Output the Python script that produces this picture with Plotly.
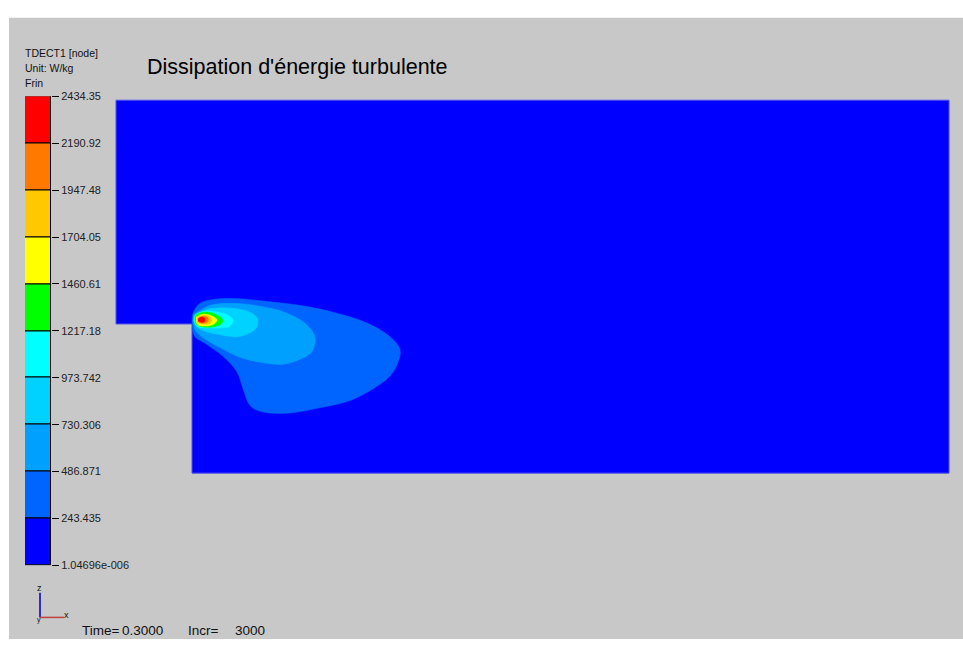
import plotly.graph_objects as go

# ---------------- data ----------------
# contour levels of TDECT1 (W/kg) and band colours (low -> high)
levels = [1.04696e-06, 243.435, 486.871, 730.306, 973.742, 1217.18,
          1460.61, 1704.05, 1947.48, 2190.92, 2434.35]
level_labels = ["1.04696e-006", "243.435", "486.871", "730.306", "973.742",
                "1217.18", "1460.61", "1704.05", "1947.48", "2190.92", "2434.35"]
band_colors = ["#0000ff", "#0064ff", "#00a0ff", "#00d2ff", "#00ffff",
               "#00ff00", "#ffff00", "#ffc800", "#ff7800", "#ff0000"]

# geometry of the backward-facing step domain (origin at step corner, z upward)
domain_x = [-76, 757, 757, 0, 0, -76, -76]
domain_z = [228, 228, -152, -152, 0, 0, 228]

# iso-contour outlines (region above each level)
contour_x = {
    1: [0, 1, 8, 21, 41, 75, 108, 141, 175, 198, 208, 206, 198, 181, 158, 125, 95, 68, 58, 51, 45, 31, 15, 3, 0],
    2: [1, 5, 18, 41, 68, 95, 115, 123, 120, 108, 91, 68, 48, 28, 11, 3, 1],
    3: [2, 8, 21, 41, 58, 65, 65, 58, 45, 28, 15, 5, 2],
    4: [2, 3, 13, 26, 36, 41, 38, 28, 16, 6, 2],
    5: [3, 4, 11, 21, 28, 31, 29, 21, 11, 5, 3],
    6: [4, 11, 20, 25, 22, 15, 6, 4],
    7: [5, 11, 18, 20, 17, 10, 5],
    8: [6, 11, 16, 16, 13, 8, 6],
    9: [6, 10, 13, 12, 8, 6],
}
contour_z = {
    1: [1, 11, 21, 25, 26, 23, 19, 12, 1, -13, -26, -39, -53, -66, -78, -86, -91, -89, -83, -66, -49, -33, -21, -13, -4],
    2: [10, 12, 19, 21, 18, 11, -1, -14, -28, -36, -41, -39, -34, -24, -14, -6, 4],
    3: [4, 12, 16, 16, 12, 6, -3, -9, -13, -11, -8, -3, 4],
    4: [2, 9, 13, 12, 9, 4, -2, -4, -4, -3, 2],
    5: [4, 9, 12, 11, 7, 4, 0, -3, -3, -1, 4],
    6: [7, 10, 8, 4, 0, -2, -1, 3],
    7: [6, 9, 7, 3, 0, 0, 2],
    8: [6, 8, 6, 3, 1, 1, 3],
    9: [5, 7, 5, 2, 2, 3],
}

FONT = "Liberation Sans, Arial, sans-serif"
W, H = 963, 645

fig = go.Figure()

# domain (lowest band colour)
fig.add_trace(go.Scatter(
    x=domain_x, y=domain_z, mode="lines", fill="toself",
    fillcolor=band_colors[0], line=dict(color="#5050f0", width=1),
    hoverinfo="skip", showlegend=False))

# contour bands
for k in range(1, 10):
    fig.add_trace(go.Scatter(
        x=contour_x[k], y=contour_z[k], mode="lines", fill="toself",
        fillcolor=band_colors[k],
        line=dict(color=band_colors[k], width=0.5, shape="spline", smoothing=1),
        hoverinfo="skip", showlegend=False))

# colour legend as stacked bars
fig.add_trace(go.Bar(
    x=[0] * 10, base=levels[:-1],
    y=[levels[i + 1] - levels[i] for i in range(10)],
    marker=dict(color=band_colors, line=dict(color="black", width=1)),
    width=1, xaxis="x2", yaxis="y2", hoverinfo="skip", showlegend=False))

def px(x):
    return x / W

def py(y):
    return 1 - y / H

annotations = []
def txt(x, y, s, size, color="#111111"):
    annotations.append(dict(x=px(x), y=py(y), xref="paper", yref="paper",
                            text=s, showarrow=False, xanchor="left",
                            yanchor="middle", xshift=-2,
                            font=dict(family=FONT, size=size, color=color)))

txt(25, 48, "TDECT1 [node]", 10.5)
txt(25, 63, "Unit: W/kg", 10.5)
txt(25, 78, "Frin", 10.5)
txt(147, 62, "Dissipation d'énergie turbulente", 21.5, "#000000")
txt(82, 636, "Time=", 13.5)
txt(122, 636, "0.3000", 13.5)
txt(188, 636, "Incr=", 13.5)
txt(235, 636, "3000", 13.5)
txt(37, 593, "z", 9)
txt(64, 621, "x", 9)
txt(37, 626, "y", 7)

shapes = [
    dict(type="rect", xref="paper", yref="paper", x0=px(9), x1=1, y0=0, y1=py(12),
         fillcolor="#c8c8c8", line=dict(width=0), layer="below"),
    dict(type="line", xref="paper", yref="paper", x0=px(40), x1=px(40),
         y0=py(598), y1=py(623), line=dict(color="#3030c0", width=2)),
    dict(type="line", xref="paper", yref="paper", x0=px(40), x1=px(64),
         y0=py(623), y1=py(623), line=dict(color="#c04040", width=1.5)),
]

fig.update_layout(
    width=W, height=H, margin=dict(l=0, r=0, t=0, b=0),
    paper_bgcolor="white", plot_bgcolor="rgba(0,0,0,0)",
    bargap=0, barmode="overlay",
    xaxis=dict(domain=[0, 1], range=[-192, 771], visible=False, fixedrange=True),
    yaxis=dict(domain=[0, 1], range=[-321, 324], visible=False, fixedrange=True),
    xaxis2=dict(domain=[px(25), px(51)], range=[-0.5, 0.5], anchor="y2",
                visible=False, fixedrange=True),
    yaxis2=dict(domain=[py(570), py(92)], range=[levels[0], levels[-1]],
                anchor="x2", side="right", showgrid=False, zeroline=False,
                showline=False, ticks="outside", ticklen=7, tickwidth=1,
                tickcolor="#000000", tickvals=levels, ticktext=level_labels,
                tickfont=dict(family=FONT, size=11, color="#222222"),
                fixedrange=True),
    annotations=annotations, shapes=shapes, showlegend=False,
)

post = (
    "var gd=document.getElementById('{plot_id}');"
    "gd.style.position='fixed';gd.style.top='0px';gd.style.left='0px';"
    "document.body.style.margin='0';"
    "document.body.style.overflow='hidden';"
    "document.documentElement.style.overflow='hidden';"
)

fig.write_html("out.html", config={"displayModeBar": False}, post_script=post)
